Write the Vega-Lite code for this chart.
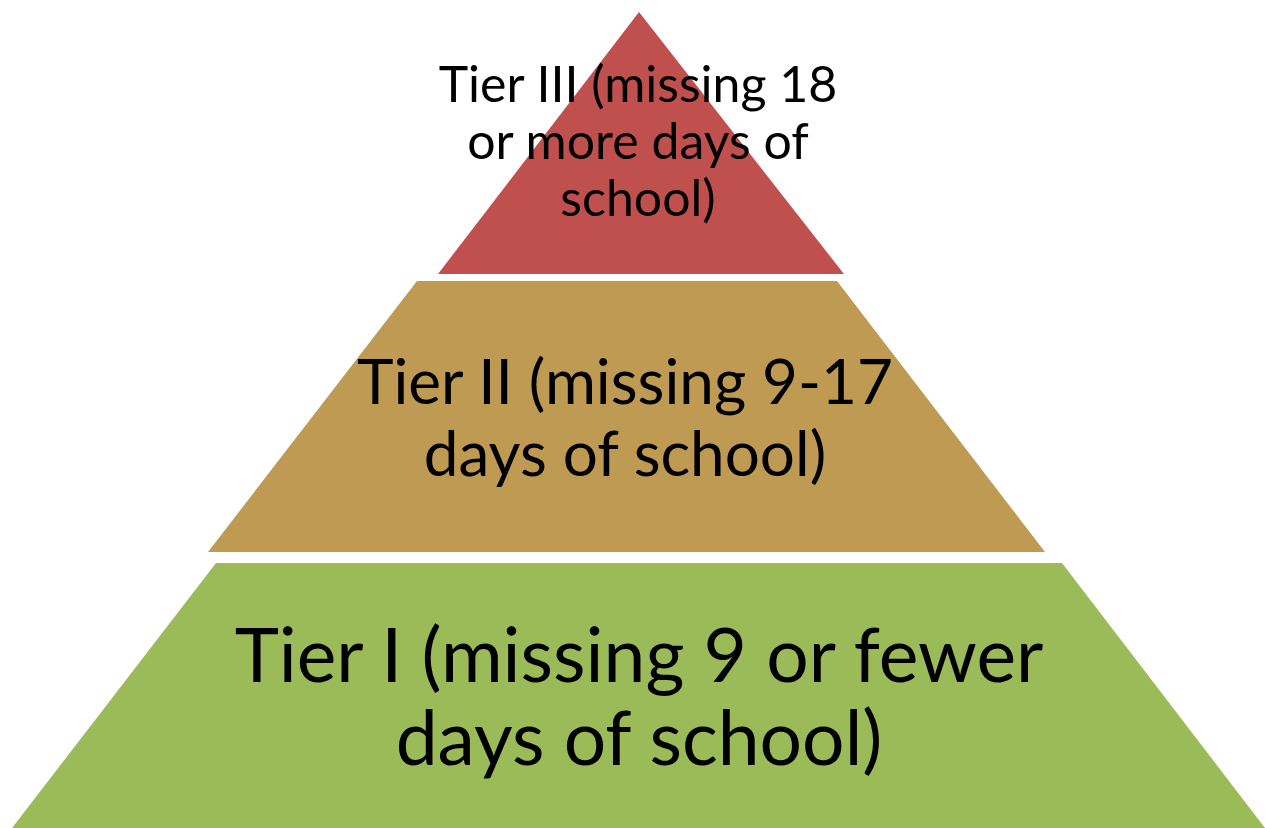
{
  "$schema": "https://vega.github.io/schema/vega-lite/v6.json",
  "width": 1265,
  "height": 828,
  "autosize": {"type": "fit", "contains": "padding"},
  "padding": 0,
  "background": "white",
  "config": {"view": {"stroke": null}},
  "datasets": {
    "shapes": [
      {"tier": "Tier III", "y": 12, "xl": 639, "xr": 639},
      {"tier": "Tier III", "y": 274, "xl": 438, "xr": 844},
      {"tier": "Tier II", "y": 281, "xl": 417, "xr": 837},
      {"tier": "Tier II", "y": 552, "xl": 208, "xr": 1045},
      {"tier": "Tier I", "y": 563, "xl": 216, "xr": 1062},
      {"tier": "Tier I", "y": 828, "xl": 12, "xr": 1265}
    ],
    "labels": [
      {"tier": "Tier III", "x": 638, "y": 87, "label": "Tier III (missing 18\nor more days of\nschool)"},
      {"tier": "Tier II", "x": 625, "y": 385, "label": "Tier II (missing 9-17\ndays of school)"},
      {"tier": "Tier I", "x": 639, "y": 659, "label": "Tier I (missing 9 or fewer\ndays of school)"}
    ]
  },
  "layer": [
    {
      "data": {"name": "shapes"},
      "mark": {"type": "area", "orient": "horizontal", "opacity": 1},
      "encoding": {
        "y": {"field": "y", "type": "quantitative", "scale": {"domain": [0, 828], "reverse": true, "nice": false, "zero": false}, "axis": null},
        "x": {"field": "xl", "type": "quantitative", "scale": {"domain": [0, 1265], "nice": false, "zero": false}, "axis": null},
        "x2": {"field": "xr"},
        "detail": {"field": "tier"},
        "color": {"field": "tier", "type": "nominal", "scale": {"domain": ["Tier III", "Tier II", "Tier I"], "range": ["#C0504D", "#BE9A52", "#9BBB59"]}, "legend": null}
      }
    },
    {
      "data": {"name": "labels"},
      "transform": [{"filter": "datum.tier === 'Tier III'"}],
      "mark": {"type": "text", "font": "Lato", "fontSize": 50, "lineHeight": 57, "lineBreak": "\n", "align": "center", "baseline": "middle", "color": "black"},
      "encoding": {
        "x": {"field": "x", "type": "quantitative"},
        "y": {"field": "y", "type": "quantitative"},
        "text": {"field": "label"}
      }
    },
    {
      "data": {"name": "labels"},
      "transform": [{"filter": "datum.tier === 'Tier II'"}],
      "mark": {"type": "text", "font": "Lato", "fontSize": 62, "lineHeight": 72, "lineBreak": "\n", "align": "center", "baseline": "middle", "color": "black"},
      "encoding": {
        "x": {"field": "x", "type": "quantitative"},
        "y": {"field": "y", "type": "quantitative"},
        "text": {"field": "label"}
      }
    },
    {
      "data": {"name": "labels"},
      "transform": [{"filter": "datum.tier === 'Tier I'"}],
      "mark": {"type": "text", "font": "Lato", "fontSize": 75, "lineHeight": 83, "lineBreak": "\n", "align": "center", "baseline": "middle", "color": "black"},
      "encoding": {
        "x": {"field": "x", "type": "quantitative"},
        "y": {"field": "y", "type": "quantitative"},
        "text": {"field": "label"}
      }
    }
  ]
}
